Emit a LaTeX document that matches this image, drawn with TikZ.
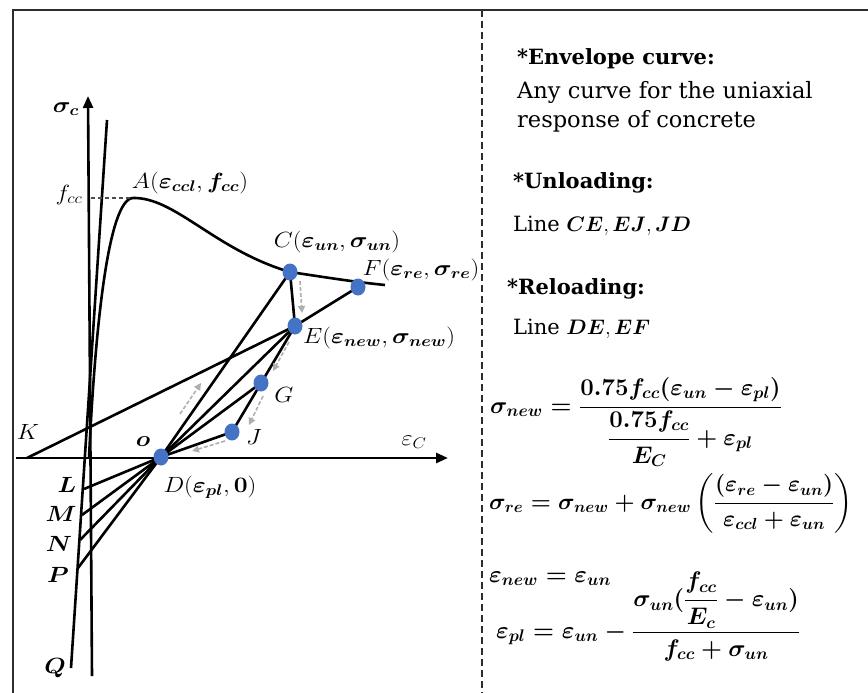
\RequirePackage{fix-cm}
\documentclass[tikz,border=0pt]{standalone}
\usepackage{amsmath,bm,graphicx}
\usepackage[no-math]{fontspec}
\setmainfont{DejaVu Serif}
\usetikzlibrary{arrows.meta,shapes.geometric}
\definecolor{dotblue}{RGB}{68,114,196}
\definecolor{framegray}{RGB}{45,45,45}
\definecolor{arrgray}{RGB}{175,175,175}
\newcommand{\labwide}[1]{\scalebox{1.12}[1]{#1}}
\tikzset{
  curve/.style={line width=2.6pt, black, line join=round},
  axisline/.style={line width=2.6pt, -{Triangle[length=12pt,width=10pt]}},
  bluedot/.style={ellipse, fill=dotblue, inner sep=0pt, minimum width=15pt, minimum height=17pt},
  ghost/.style={arrgray, line width=1.6pt, dash pattern=on 4pt off 2pt, -{Triangle[length=7pt,width=7pt]}},
  lab/.style={font=\fontsize{22}{26}\selectfont, inner sep=0pt},
  txt/.style={font=\fontsize{21}{25}\selectfont, anchor=base west, inner sep=0pt},
  bodytxt/.style={font=\fontsize{22.5}{27}\selectfont, anchor=base west, inner sep=0pt},
  eq/.style={font=\fontsize{24}{28}\selectfont\boldmath, anchor=base west, inner sep=0pt},
  eqsmall/.style={eq, font=\fontsize{23}{27}\selectfont\boldmath}
}
\begin{document}
\begin{tikzpicture}[x=1pt,y=-1pt]
\useasboundingbox (0,0) rectangle (868,693);
% frame and separator
\coordinate (frBL) at (13,693);
\coordinate (frTL) at (13,10);
\coordinate (frTR) at (868,10);
\coordinate (sepT) at (482,10);
\coordinate (sepB) at (482,693);
\draw[framegray, line width=1.8pt] (frBL) -- (frTL) -- (frTR);
\draw[framegray, line width=1.5pt, dash pattern=on 7pt off 4pt] (sepT) -- (sepB);

% axes
\coordinate (ybot) at (92,676);
\coordinate (ytop) at (88,96);
\coordinate (xl) at (16,458);
\coordinate (xr) at (448,458);
\draw[axisline] (ybot) -- (ytop);
\draw[axisline] (xl) -- (xr);

% points
\coordinate (Ptop) at (107,120);
\coordinate (Q) at (71,668);
\coordinate (L) at (84,489);
\coordinate (M) at (82,515);
\coordinate (N) at (80,540);
\coordinate (P) at (78,568);
\coordinate (K) at (27,458);
\coordinate (A) at (133,198);
\coordinate (C) at (290,272);
\coordinate (F) at (358,287);
\coordinate (E) at (295,326);
\coordinate (G) at (261,383);
\coordinate (J) at (232,432);
\coordinate (D) at (161,457);
\coordinate (fccL) at (91,198);

% elastic line
\draw[curve] (Ptop) -- (Q);
% envelope curve
\draw[curve] (89,458) .. controls (95,330) and (108,199) .. (A)
  .. controls (175,197) and (215,250) .. (C)
  .. controls (330,278) and (355,282) .. (385,285);
\draw[line width=1.2pt, dash pattern=on 4pt off 3pt, black!70] (fccL) -- (A);

% lines
\draw[curve] (K) -- (E) -- (F);
\draw[curve] (C) -- (E);
\draw[curve] (E) -- (J);
\draw[curve] (D) -- (C);
\draw[curve] (D) -- (E);
\draw[curve] (D) -- (G);
\draw[curve] (D) -- (J);
\draw[curve] (D) -- (L);
\draw[curve] (D) -- (M);
\draw[curve] (D) -- (N);
\draw[curve] (D) -- (P);

% gray direction arrows
\coordinate (g1a) at (300,281); \coordinate (g1b) at (302,313);
\coordinate (g2a) at (180,414); \coordinate (g2b) at (201,383);
\coordinate (g3a) at (289,342); \coordinate (g3b) at (273,371);
\coordinate (g4a) at (263,396); \coordinate (g4b) at (249,425);
\coordinate (g5a) at (225,441); \coordinate (g5b) at (192,451);
\draw[ghost] (g1a) -- (g1b);
\draw[ghost] (g2a) -- (g2b);
\draw[ghost] (g3a) -- (g3b);
\draw[ghost] (g4a) -- (g4b);
\draw[ghost] (g5a) -- (g5b);

% dots
\node[bluedot] (dC) at (C) {};
\node[bluedot] (dF) at (F) {};
\node[bluedot] (dE) at (E) {};
\node[bluedot] (dG) at (G) {};
\node[bluedot] (dJ) at (J) {};
\node[bluedot] (dD) at (D) {};

% labels
\node[lab] (tsig) at (66,109) {\labwide{$\bm{\sigma_c}$}};
\node[lab] (tfcc) at (69,195) {\labwide{$f_{cc}$}};
\node[lab] (tA) at (190,183) {\labwide{$A(\bm{\varepsilon_{ccl}},\bm{f_{cc}})$}};
\node[lab] (tC) at (337,242) {\labwide{$C(\bm{\varepsilon_{un}},\bm{\sigma_{un}})$}};
\node[lab] (tF) at (421,270) {\labwide{$F(\bm{\varepsilon_{re}},\bm{\sigma_{re}})$}};
\node[lab] (tE) at (379,338) {\labwide{$E(\bm{\varepsilon_{new}},\bm{\sigma_{new}})$}};
\node[lab] (tG) at (284,395) {\labwide{$G$}};
\node[lab] (tJ) at (254,437) {\labwide{$J$}};
\node[lab] (to) at (143,442) {\labwide{$\bm{o}$}};
\node[lab] (tK) at (28,432) {\labwide{$K$}};
\node[lab] (teps) at (414,442) {\labwide{$\varepsilon_C$}};
\node[lab] (tD) at (210,487) {\labwide{$D(\bm{\varepsilon_{pl}},\mathbf{0})$}};
\node[lab] (tL) at (67,485) {\labwide{$\bm{L}$}};
\node[lab] (tM) at (61,514) {\labwide{$\bm{M}$}};
\node[lab] (tN) at (59,544) {\labwide{$\bm{N}$}};
\node[lab] (tP) at (58,575) {\labwide{$\bm{P}$}};
\node[lab] (tQ) at (55,668) {\labwide{$\bm{Q}$}};

% right-hand text
\node[txt] (h1) at (517,65) {\textbf{*Envelope curve:}};
\node[bodytxt] (b1) at (517,99) {Any curve for the uniaxial};
\node[bodytxt] (b2) at (517,128) {response of concrete};
\node[txt] (h2) at (513,188) {\textbf{*Unloading:}};
\node[txt] (b3) at (513,231) {Line $\bm{CE},\bm{EJ},\bm{JD}$};
\node[txt] (h3) at (507,294) {\textbf{*Reloading:}};
\node[txt] (b4) at (513,334) {Line $\bm{DE},\bm{EF}$};

% equations
\node[eq] (eq1) at (490,413) {$\sigma_{new}=\dfrac{0.75f_{cc}(\varepsilon_{un}-\varepsilon_{pl})}{\dfrac{0.75f_{cc}}{E_C}+\varepsilon_{pl}}$};
\node[eqsmall] (eq2) at (489,509) {$\sigma_{re}=\sigma_{new}+\sigma_{new}\left(\dfrac{(\varepsilon_{re}-\varepsilon_{un})}{\varepsilon_{ccl}+\varepsilon_{un}}\right)$};
\node[eq] (eq3) at (489,582) {$\varepsilon_{new}=\varepsilon_{un}$};
\node[eq] (eq4) at (496,638) {$\varepsilon_{pl}=\varepsilon_{un}-\dfrac{\sigma_{un}(\dfrac{f_{cc}}{E_c}-\varepsilon_{un})}{f_{cc}+\sigma_{un}}$};
\end{tikzpicture}
\end{document}
